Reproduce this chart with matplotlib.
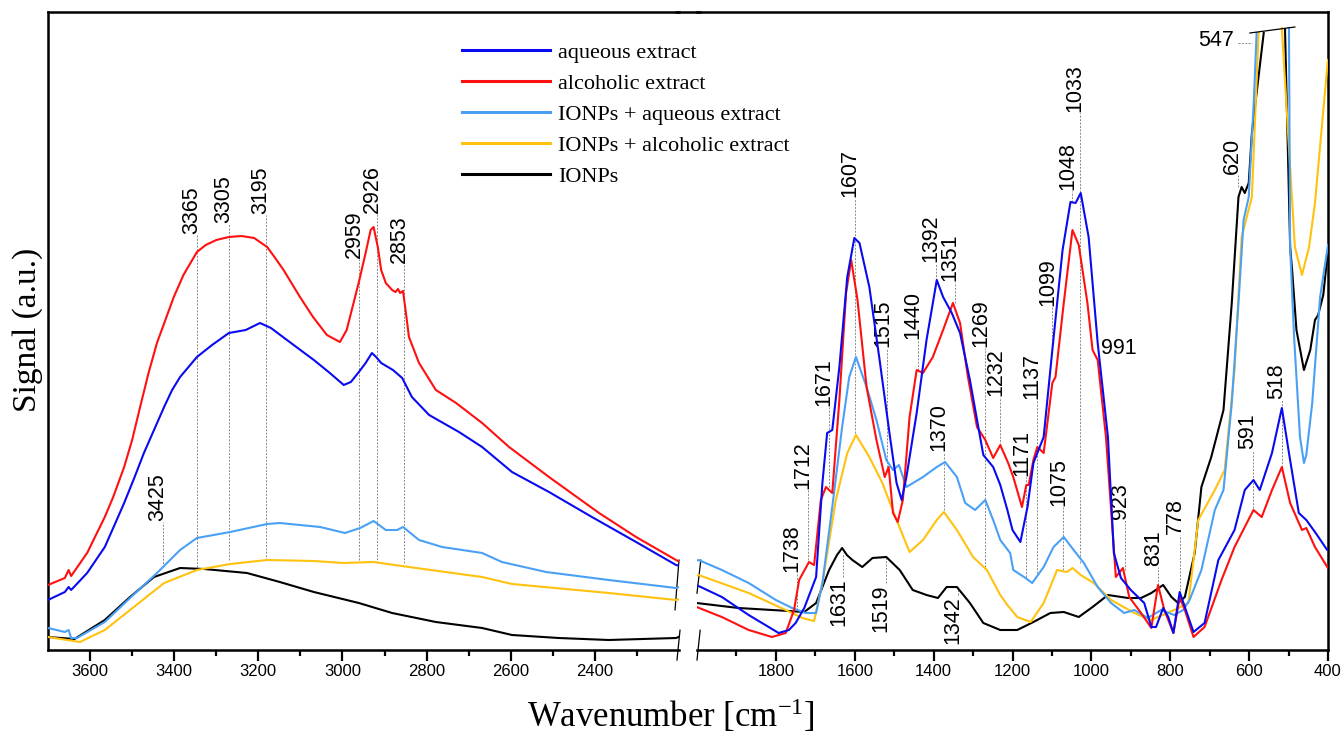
import numpy as np
import matplotlib.pyplot as plt
from matplotlib.lines import Line2D

plt.rcParams['font.family'] = 'Liberation Sans'
plt.rcParams['mathtext.fontset'] = 'custom'
plt.rcParams['mathtext.rm'] = 'Liberation Serif'
plt.rcParams['mathtext.it'] = 'Liberation Serif:italic'

# ---- spectra (wavenumber, signal in a.u.) ----
aq_wn = [3700, 3660, 3651, 3645, 3607, 3565, 3545, 3519, 3495, 3472, 3448, 3424, 3405, 3386, 3366,
         3346, 3310, 3270, 3230, 3196, 3170, 3132, 3100, 3068, 3030, 2997, 2980, 2961, 2945, 2930,
         2920, 2908, 2880, 2858, 2835, 2794, 2723, 2668, 2597, 2509, 2407, 2302, 2207,
         1996, 1937, 1869, 1793, 1767, 1750, 1728, 1698, 1682, 1670, 1657, 1639, 1619, 1601, 1588,
         1563, 1537, 1512, 1494, 1481, 1469, 1443, 1418, 1392, 1376, 1354, 1333, 1308, 1274, 1249,
         1231, 1213, 1200, 1180, 1162, 1147, 1121, 1099, 1073, 1053, 1040, 1027, 1007, 984, 958,
         943, 925, 900, 866, 848, 836, 818, 805, 792, 776, 763, 741, 713, 678, 637, 611, 589, 573,
         542, 517, 499, 474, 455, 433, 402, 400]
aq_sig = [50, 58, 63, 60, 77, 103, 122, 147, 172, 197, 220, 243, 260, 273, 283,
          293, 305, 317, 320, 327, 322, 310, 300, 290, 277, 265, 268, 278, 287, 297,
          293, 287, 280, 272, 253, 235, 218, 203, 178, 158, 133, 108, 85,
          64, 53, 35, 17, 20, 27, 42, 73, 167, 217, 220, 283, 373, 412, 407,
          363, 290, 217, 167, 150, 173, 237, 310, 370, 353, 337, 317, 270, 195, 183,
          165, 140, 120, 108, 143, 187, 213, 300, 400, 448, 447, 457, 413, 307, 213,
          97, 72, 60, 47, 23, 23, 42, 33, 17, 58, 43, 18, 27, 90, 120, 160, 170, 160,
          197, 242, 197, 137, 130, 118, 100, 100]

al_wn = [3700, 3660, 3651, 3645, 3607, 3565, 3545, 3519, 3500, 3481, 3461, 3441, 3421, 3401, 3378,
         3346, 3325, 3300, 3270, 3240, 3210, 3179, 3160, 3140, 3101, 3070, 3037, 3006, 2990, 2961,
         2945, 2933, 2926, 2916, 2908, 2897, 2882, 2874, 2868, 2863, 2856, 2847, 2842, 2818, 2778,
         2730, 2668, 2604, 2509, 2390, 2302, 2207,
         2001, 1937, 1869, 1810, 1775, 1754, 1741, 1716, 1703, 1686, 1673, 1657, 1639, 1622, 1609,
         1593, 1570, 1545, 1524, 1514, 1503, 1491, 1478, 1461, 1443, 1427, 1402, 1376, 1351, 1333,
         1313, 1290, 1269, 1249, 1231, 1211, 1198, 1176, 1165, 1159, 1147, 1137, 1121, 1099, 1091,
         1070, 1048, 1032, 1010, 997, 984, 963, 938, 920, 904, 874, 848, 831, 815, 792, 776, 763,
         741, 713, 670, 637, 611, 589, 568, 542, 517, 496, 466, 455, 433, 402, 400]
al_sig = [65, 72, 80, 74, 97, 133, 153, 183, 210, 243, 277, 307, 330, 353, 375,
          398, 405, 410, 413, 414, 412, 403, 392, 380, 353, 333, 315, 308, 320, 368,
          397, 420, 423, 403, 380, 367, 360, 358, 361, 357, 359, 330, 313, 287, 260,
          247, 227, 203, 173, 137, 113, 90,
          43, 33, 20, 13, 17, 40, 70, 88, 85, 150, 163, 157, 250, 357, 390,
          350, 263, 210, 173, 183, 137, 128, 150, 233, 280, 277, 293, 320, 347, 327,
          273, 223, 210, 192, 205, 187, 173, 143, 165, 165, 190, 203, 197, 267, 273,
          347, 420, 405, 347, 300, 290, 213, 73, 82, 53, 37, 22, 65, 40, 17, 53, 40,
          13, 23, 70, 103, 123, 140, 133, 160, 183, 147, 120, 122, 103, 83, 82]

np_aq_wn = [3700, 3660, 3651, 3645, 3631, 3565, 3505, 3441, 3386, 3346, 3267, 3179, 3149, 3053, 2994,
            2958, 2926, 2897, 2870, 2856, 2818, 2763, 2668, 2621, 2516, 2367, 2207,
            1996, 1937, 1869, 1800, 1759, 1724, 1698, 1682, 1657, 1632, 1614, 1597, 1570, 1545, 1520,
            1503, 1488, 1469, 1427, 1392, 1371, 1341, 1320, 1295, 1269, 1249, 1231, 1206, 1198, 1167,
            1150, 1121, 1096, 1070, 1045, 1019, 984, 950, 917, 891, 857, 823, 790, 767, 751, 721,
            687, 665, 644, 627, 614, 601, 588, 581, 540, 499, 496, 486, 471, 461, 455, 440, 420, 402,
            400]
np_aq_sig = [22, 18, 20, 12, 12, 28, 52, 77, 100, 112, 118, 126, 127, 123, 117,
             122, 129, 120, 120, 123, 110, 103, 97, 88, 78, 70, 62,
             90, 80, 67, 50, 42, 37, 37, 67, 143, 223, 273, 293, 263, 230, 190,
             180, 185, 163, 173, 183, 188, 173, 147, 140, 150, 130, 110, 97, 80, 72,
             67, 83, 103, 113, 100, 87, 63, 47, 37, 40, 32, 40, 35, 40, 50, 80,
             140, 160, 247, 347, 430, 453, 550, 617, np.nan, 622, 403, 313, 213, 187, 195, 247, 353, 400,
             405]

np_al_wn = [3700, 3624, 3565, 3496, 3424, 3346, 3267, 3179, 3068, 2997, 2926, 2842, 2668, 2597, 2367,
            2207,
            1996, 1869, 1775, 1733, 1703, 1682, 1648, 1619, 1597, 1563, 1530, 1494, 1461, 1427, 1392,
            1374, 1341, 1300, 1265, 1231, 1213, 1188, 1154, 1121, 1087, 1062, 1048, 1027, 994, 950,
            891, 848, 790, 754, 729, 687, 662, 637, 619, 593, 576, 545, 517, 484, 466, 448, 433, 402,
            400]
np_al_sig = [13, 8, 20, 43, 67, 80, 86, 90, 89, 87, 88, 83, 73, 66, 57,
             50,
             75, 57, 40, 32, 29, 67, 150, 197, 215, 193, 167, 130, 98, 110, 130,
             138, 120, 93, 80, 55, 45, 33, 28, 47, 80, 78, 82, 75, 67, 50,
             37, 30, 40, 47, 130, 160, 180, 280, 413, 453, 617, np.nan, 622, 403, 375, 403, 447, 583,
             590]

ionp_wn = [3700, 3637, 3565, 3505, 3448, 3386, 3329, 3227, 3149, 3068, 2961, 2882, 2778, 2668, 2597,
           2486, 2367, 2207,
           2001, 1895, 1767, 1728, 1698, 1665, 1645, 1632, 1620, 1606, 1581, 1555, 1520, 1486, 1453,
           1418, 1389, 1367, 1341, 1308, 1274, 1231, 1188, 1147, 1104, 1070, 1032, 997, 958, 907,
           874, 848, 818, 797, 780, 763, 738, 721, 696, 665, 644, 627, 619, 611, 601, 593, 563, 535,
           509, 496, 491, 480, 461, 445, 433, 425, 412, 400]
ionp_sig = [13, 11, 30, 53, 73, 82, 81, 77, 68, 58, 47, 37, 28, 22, 15,
            12, 10, 12,
            47, 42, 39, 38, 47, 80, 95, 102, 95, 90, 83, 92, 93, 80, 60,
            55, 52, 63, 63, 47, 27, 20, 20, 28, 37, 38, 33, 43, 55, 52,
            52, 57, 65, 53, 47, 53, 97, 163, 193, 240, 347, 453, 463, 457, 467, 517, 617, np.nan,
            621, 403, 380, 320, 280, 300, 330, 335, 355, 400]

series_labels = ['aqueous extract', 'alcoholic extract', 'IONPs + aqueous extract',
                 'IONPs + alcoholic extract', 'IONPs']
colors = ['#0a0af0', '#ff1010', '#4aa0f5', '#ffc20e', '#000000']

# peak labels: text, wavenumber of the guide line, lower end, upper end
left_peaks = [('3425', 3427, 83, 128), ('3365', 3346, 83, 415), ('3305', 3270, 90, 426),
              ('3195', 3182, 90, 435), ('2959', 2961, 90, 391), ('2926', 2918, 87, 436),
              ('2853', 2854, 87, 386)]
right_peaks = [('1738', 1746, 40, 77), ('1712', 1718, 90, 160), ('1671', 1665, 163, 243),
               ('1607', 1599, 217, 452), ('1515', 1517, 183, 302), ('1440', 1440, 280, 310),
               ('1392', 1394, 370, 387), ('1351', 1346, 347, 368), ('1370', 1374, 140, 198),
               ('1269', 1269, 83, 302), ('1232', 1231, 205, 253), ('1137', 1139, 77, 250),
               ('1171', 1165, 73, 173), ('1099', 1099, 300, 343), ('1075', 1071, 80, 143),
               ('1048', 1048, 448, 459), ('1033', 1030, 87, 537), ('923', 915, 80, 130),
               ('831', 831, 65, 83), ('778', 775, 50, 115), ('620', 629, 463, 475),
               ('591', 591, 142, 200), ('518', 517, 183, 250)]
below_peaks = [('1631', 1629, 73, 97), ('1519', 1522, 67, 92), ('1342', 1338, 55, 63)]

W, H = 1343, 735
fig = plt.figure(figsize=(W / 100, H / 100), dpi=100)
ax1 = fig.add_axes([48 / W, 85 / H, 631 / W, 638 / H])
ax2 = fig.add_axes([697 / W, 85 / H, 631 / W, 638 / H])

data = [(aq_wn, aq_sig), (al_wn, al_sig), (np_aq_wn, np_aq_sig), (np_al_wn, np_al_sig), (ionp_wn, ionp_sig)]
handles = [None] * 5
for i in [4, 3, 2, 1, 0]:
    wn, sig = data[i]
    for ax in (ax1, ax2):
        ax.plot(wn, sig, color=colors[i], lw=1.5, zorder=3 + (4 - i) * 0.1)
    handles[i] = Line2D([], [], color=colors[i], lw=2.2)

ax1.set_xlim(3700, 2200)
ax2.set_xlim(2000, 400)
for ax in (ax1, ax2):
    ax.set_ylim(0, 638)
    ax.set_yticks([])
    for s in ax.spines.values():
        s.set_linewidth(1.8)
    ax.tick_params(axis='x', which='major', length=8, width=1.6, labelsize=12, pad=2)
    ax.tick_params(axis='x', which='minor', length=4.5, width=1.6)
ax1.spines['right'].set_visible(False)
ax2.spines['left'].set_visible(False)
ax1.set_xticks(np.arange(3600, 2300, -200))
ax1.set_xticks(np.arange(3500, 2200, -200), minor=True)
ax2.set_xticks(np.arange(1800, 300, -200))
ax2.set_xticks(np.arange(1900, 400, -200), minor=True)

# continuous top frame across the break
fig.add_artist(Line2D([675 / W, 701 / W], [1 - 12 / H] * 2, color='k', lw=1.8,
                      solid_capstyle='butt'))

# break marks
kw = dict(color='k', lw=0.9, clip_on=False, transform=ax1.transAxes)
ax1.plot([0.9968, 1.0016], [-0.0157, 0.031], **kw)
ax1.plot([0.9937, 1.0], [0.063, 0.141], **kw)
kw['transform'] = ax2.transAxes
ax2.plot([0.0, 0.005], [-0.0157, 0.031], **kw)
ax2.plot([0.0, 0.006], [0.089, 0.141], **kw)
# break over the 547 band
ax2.plot([598, 484], [617, 623], color='k', lw=0.9, zorder=6)

guide = dict(color='#888888', lw=0.7, ls=(0, (2, 1.5)), zorder=2)
tfont = dict(family='Liberation Sans', fontsize=15.5)
for ax, peaks in ((ax1, left_peaks), (ax2, right_peaks)):
    for txt, x, y0, y1 in peaks:
        ax.plot([x, x], [y0, y1], **guide)
        ax.annotate(txt, (x, y1), xytext=(-3.5, 1), textcoords='offset points',
                    rotation=90, ha='center', va='bottom', **tfont)
for txt, x, y0, y1 in below_peaks:
    ax2.plot([x, x], [y0, y1], **guide)
    ax2.annotate(txt, (x, y0), xytext=(-3.5, -1), textcoords='offset points',
                 rotation=90, ha='center', va='top', **tfont)

ax2.text(976, 301, '991', ha='left', va='center', **tfont)
ax2.plot([627, 593], [607, 607], **guide)
ax2.text(637, 609, '547', ha='right', va='center', **tfont)

fig.legend(handles, series_labels, loc='upper left', bbox_to_anchor=(462 / W, 1 - 42 / H),
           frameon=False, prop={'family': 'Liberation Serif', 'size': 16},
           handlelength=3.95, handletextpad=0.36, labelspacing=0.47,
           borderpad=0, borderaxespad=0)

fig.text(28 / W, 1 - 330 / H, 'Signal (a.u.)', rotation=90, ha='center', va='center',
         family='Liberation Serif', fontsize=24)
fig.text(671 / W, 1 - 716 / H, 'Wavenumber [cm$^{-1}$]', ha='center', va='center',
         family='Liberation Serif', fontsize=25)

fig.savefig('out.png', dpi=100)
